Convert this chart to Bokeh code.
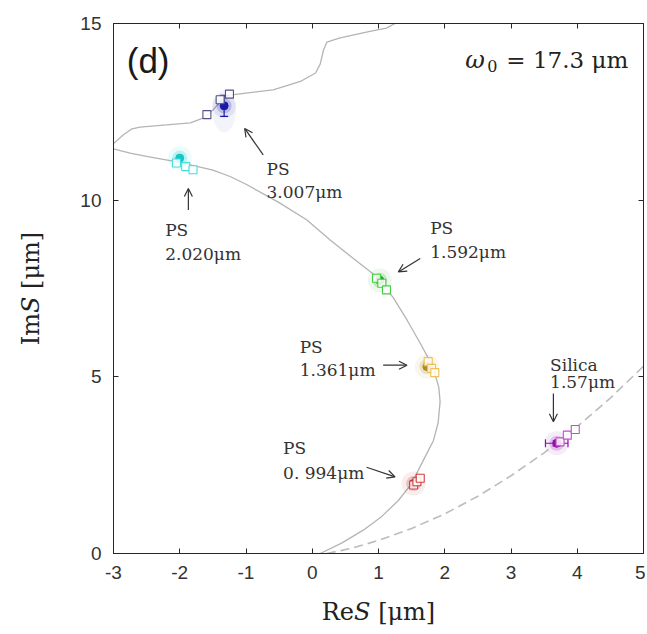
import math
from bokeh.plotting import figure
from bokeh.models import (ColumnDataSource, Range1d, LinearAxis, FixedTicker, Label,
                          Arrow, OpenHead, Whisker, TeeHead)
from bokeh.core.properties import value
from bokeh.embed import file_html
from bokeh.resources import INLINE

# ---------------- data ----------------
x_ticks = [-3, -2, -1, 0, 1, 2, 3, 4, 5]
x_tick_labels = ["-3", "-2", "-1", "0", "1", "2", "3", "4", "5"]
y_ticks = [0, 5, 10, 15]
y_tick_labels = ["0", "5", "10", "15"]
x_title = "Re\U0001D446 [μm]"
y_title = "Im\U0001D446 [μm]"

# solid theory curve (lower branch)
curve_a_x = [0.12, 0.45, 0.77, 1.05, 1.30, 1.50, 1.68, 1.83, 1.90, 1.93, 1.91, 1.85, 1.76,
             1.63, 1.43, 1.22, 0.97, 0.62, 0.27, -0.08, -0.50, -1.00, -1.24, -1.50, -2.00,
             -2.50, -2.75, -3.00]
curve_a_y = [0.00, 0.30, 0.66, 1.05, 1.50, 1.98, 2.65, 3.20, 3.70, 4.30, 4.70, 5.10, 5.50,
             5.95, 6.61, 7.25, 7.84, 8.35, 8.87, 9.44, 9.93, 10.45, 10.67, 10.85, 11.07,
             11.24, 11.33, 11.45]
# solid theory curve (upper branch)
curve_b_x = [-3.00, -2.85, -2.72, -2.60, -2.20, -1.84, -1.64, -1.50, -1.38, -1.25, -1.00,
             -0.59, -0.18, 0.05, 0.12, 0.17, 0.22, 0.42, 0.87, 1.12, 1.25]
curve_b_y = [11.60, 11.85, 12.02, 12.07, 12.13, 12.19, 12.33, 12.55, 12.80, 12.97, 13.03,
             13.12, 13.36, 13.60, 13.85, 14.25, 14.47, 14.59, 14.78, 14.87, 15.00]
# dashed theory curve (silica)
curve_c_x = [0.22, 0.60, 1.00, 1.50, 2.00, 2.50, 3.00, 3.50, 4.00, 4.50, 5.00]
curve_c_y = [0.00, 0.15, 0.37, 0.71, 1.12, 1.62, 2.20, 2.85, 3.59, 4.40, 5.30]

# measured points (filled circles) and simulated points (open squares)
sample_colors = ["#1a1aa8", "#10c8c8", "#2a9a2a", "#b08a20", "#b01818", "#9010a8"]
square_colors = ["#50508a", "#40dede", "#40d040", "#f0c050", "#d04040", "#c050c8"]
meas_x = [-1.33, -2.00, 1.02, 1.73, 1.53, 3.69]
meas_y = [12.67, 11.19, 7.73, 5.29, 1.98, 3.12]
meas_xerr = [0.00, 0.00, 0.00, 0.00, 0.00, 0.17]
meas_yerr = [0.30, 0.00, 0.00, 0.00, 0.00, 0.07]
sim_x = [[-1.59, -1.39, -1.25], [-2.05, -1.91, -1.80], [0.97, 1.05, 1.12],
         [1.75, 1.80, 1.85], [1.53, 1.58, 1.63], [3.74, 3.85, 3.97]]
sim_y = [[12.42, 12.84, 13.00], [11.05, 10.95, 10.86], [7.79, 7.65, 7.46],
         [5.43, 5.24, 5.12], [1.94, 2.03, 2.13], [3.16, 3.35, 3.51]]

# annotations
ann_text = ["PS", "3.007μm", "PS", "2.020μm", "PS", "1.592μm", "PS", "1.361μm",
            "PS", "0. 994μm", "Silica", "1.57μm"]
ann_x = [-0.69, -0.69, -2.22, -2.22, 1.78, 1.78, -0.19, -0.19, -0.44, -0.44, 3.59, 3.59]
ann_y = [10.88, 10.23, 9.15, 8.49, 9.20, 8.53, 5.85, 5.19, 2.98, 2.29, 5.33, 4.86]
arrow_x0 = [-0.74, -1.87, 1.63, 1.07, 0.82, 3.64]
arrow_y0 = [11.28, 9.72, 8.35, 5.33, 2.44, 4.53]
arrow_x1 = [-1.02, -1.87, 1.30, 1.43, 1.25, 3.64]
arrow_y1 = [12.03, 10.33, 7.97, 5.33, 2.17, 3.73]

# ---------------- figure ----------------
p = figure(width=645, height=634, x_range=Range1d(-3, 5), y_range=Range1d(0, 15),
           output_backend="svg", toolbar_location=None,
           min_border_left=113, min_border_right=2, min_border_top=23, min_border_bottom=81)
p.background_fill_color = "white"
p.border_fill_color = "white"
p.outline_line_color = "#262626"
p.xgrid.visible = False
p.ygrid.visible = False

AX = "#262626"
TICKF = "Liberation Sans"
SERIF = "DejaVu Serif"

bottom_ax = p.below[0]
left_ax = p.left[0]


def style_axis(ax, ticks, labels, show_labels):
    ax.ticker = FixedTicker(ticks=ticks, minor_ticks=[])
    ax.axis_line_color = AX
    ax.major_tick_line_color = AX
    ax.major_tick_in = 5
    ax.major_tick_out = 0
    ax.minor_tick_line_color = None
    if show_labels:
        ax.major_label_overrides = {t: l for t, l in zip(ticks, labels)}
        ax.major_label_text_font = TICKF
        ax.major_label_text_font_size = "19px"
        ax.major_label_text_color = "#333333"
        ax.major_label_standoff = 12
    else:
        ax.major_label_overrides = {t: "" for t in ticks}
        ax.major_label_text_font_size = "8px"
        ax.major_label_standoff = 0


style_axis(bottom_ax, x_ticks, x_tick_labels, True)
style_axis(left_ax, y_ticks, y_tick_labels, True)
top_ax = LinearAxis()
right_ax = LinearAxis()
style_axis(top_ax, x_ticks, x_tick_labels, False)
style_axis(right_ax, y_ticks, y_tick_labels, False)
p.add_layout(top_ax, "above")
p.add_layout(right_ax, "right")

for ax, title, standoff in [(bottom_ax, x_title, 16), (left_ax, y_title, 32)]:
    ax.axis_label = title
    ax.axis_label_text_font = SERIF
    ax.axis_label_text_font_style = "normal"
    ax.axis_label_text_font_size = "24px"
    ax.axis_label_text_color = "#222222"
    ax.axis_label_standoff = standoff

# theory curves
p.line(curve_a_x, curve_a_y, line_color="#b4b4b4", line_width=1.3)
p.line(curve_b_x, curve_b_y, line_color="#b4b4b4", line_width=1.3)
p.line(curve_c_x, curve_c_y, line_color="#bcbcbc", line_width=1.6, line_dash="9 5")

# glow around the measured clusters
p.scatter(meas_x, meas_y, marker="circle", size=24, fill_color=sample_colors,
          fill_alpha=0.08, line_color=None)
p.scatter(meas_x, meas_y, marker="circle", size=15, fill_color=sample_colors,
          fill_alpha=0.20, line_color=None)
p.ellipse([meas_x[0]], [meas_y[0] - 0.15], width=0.35, height=1.2,
          fill_color=sample_colors[0], fill_alpha=0.05, line_color=None)

# measured points
p.scatter(meas_x, meas_y, marker="circle", size=8, fill_color=sample_colors,
          line_color=sample_colors)

# error bars
ey = [i for i in range(len(meas_x)) if meas_yerr[i] > 0]
src_y = ColumnDataSource(dict(
    base=[meas_x[i] for i in ey],
    lo=[meas_y[i] - meas_yerr[i] for i in ey],
    hi=[meas_y[i] + meas_yerr[i] for i in ey],
    c=[sample_colors[i] for i in ey]))
p.add_layout(Whisker(source=src_y, base="base", lower="lo", upper="hi", dimension="height",
                     line_color="c", line_width=1.2,
                     lower_head=TeeHead(size=8, line_color="c", line_width=1.2),
                     upper_head=TeeHead(size=8, line_color="c", line_width=1.2)))
ex = [i for i in range(len(meas_x)) if meas_xerr[i] > 0]
src_x = ColumnDataSource(dict(
    base=[meas_y[i] for i in ex],
    lo=[meas_x[i] - meas_xerr[i] for i in ex],
    hi=[meas_x[i] + meas_xerr[i] for i in ex],
    c=[sample_colors[i] for i in ex]))
p.add_layout(Whisker(source=src_x, base="base", lower="lo", upper="hi", dimension="width",
                     line_color="c", line_width=1.2,
                     lower_head=TeeHead(size=8, line_color="c", line_width=1.2),
                     upper_head=TeeHead(size=8, line_color="c", line_width=1.2)))

# simulated points (open squares)
sq_x, sq_y, sq_c = [], [], []
for i in range(len(sim_x)):
    for xx, yy in zip(sim_x[i], sim_y[i]):
        sq_x.append(xx)
        sq_y.append(yy)
        sq_c.append(square_colors[i])
p.scatter(sq_x, sq_y, marker="square", size=8, fill_color="white", fill_alpha=0.85,
          line_color=sq_c, line_width=1.1)

# annotations
p.text(ann_x, ann_y, text=ann_text, text_font=value(SERIF), text_font_size="17px",
       text_color="#333333", text_align="left", text_baseline="middle")
arr_src = ColumnDataSource(dict(x0=arrow_x0, y0=arrow_y0, x1=arrow_x1, y1=arrow_y1))
p.add_layout(Arrow(source=arr_src, x_start="x0", y_start="y0", x_end="x1", y_end="y1",
                   line_color="#333333", line_width=1.2,
                   end=OpenHead(size=8, line_color="#333333", line_width=1.2)))

# panel letter and beam waist
p.add_layout(Label(x=-2.80, y=13.94, text="(d)", text_font=TICKF, text_font_size="35px",
                   text_color="#1a1a1a", text_align="left", text_baseline="middle"))
p.add_layout(Label(x=2.31, y=13.97, text="ω", text_font=SERIF, text_font_style="italic",
                   text_font_size="24px", text_color="#222222", text_align="left",
                   text_baseline="alphabetic"))
p.add_layout(Label(x=2.64, y=13.80, text="0", text_font=SERIF, text_font_size="16px",
                   text_color="#222222", text_align="left", text_baseline="alphabetic"))
p.add_layout(Label(x=2.93, y=13.97, text="= 17.3 μm", text_font=SERIF,
                   text_font_size="23px", text_color="#222222", text_align="left",
                   text_baseline="alphabetic"))

open("out.html", "w").write(file_html(p, INLINE))
